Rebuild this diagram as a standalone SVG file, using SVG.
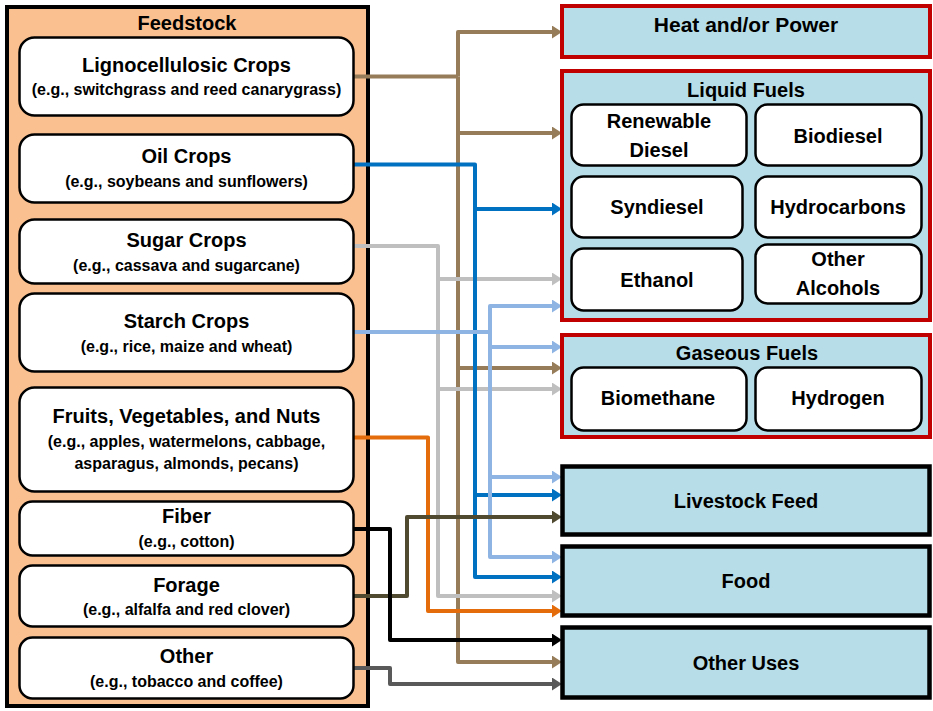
<svg xmlns="http://www.w3.org/2000/svg" width="933" height="711" viewBox="0 0 933 711">
<style>
text{font-family:"Liberation Sans",Arial,sans-serif;font-weight:bold;fill:#000;text-anchor:middle}
.t{font-size:20px}
.s{font-size:16px}
.big{font-size:21px}
.inner{fill:#fff;stroke:#000;stroke-width:2.5}
.sec{fill:#B7DEE8;stroke:#C00000;stroke-width:4}
.out{fill:#B7DEE8;stroke:#000;stroke-width:4.5}
.c{fill:none;stroke-width:4;stroke-linejoin:round}
</style>
<defs>
<marker id="aBr" markerUnits="userSpaceOnUse" markerWidth="10" markerHeight="13" refX="0" refY="6.5" orient="auto" viewBox="0 0 10 13"><path d="M0,0L10,6.5L0,13z" fill="#967C58"/></marker>
<marker id="aBl" markerUnits="userSpaceOnUse" markerWidth="10" markerHeight="13" refX="0" refY="6.5" orient="auto" viewBox="0 0 10 13"><path d="M0,0L10,6.5L0,13z" fill="#0070C0"/></marker>
<marker id="aGr" markerUnits="userSpaceOnUse" markerWidth="10" markerHeight="13" refX="0" refY="6.5" orient="auto" viewBox="0 0 10 13"><path d="M0,0L10,6.5L0,13z" fill="#BFBFBF"/></marker>
<marker id="aLb" markerUnits="userSpaceOnUse" markerWidth="10" markerHeight="13" refX="0" refY="6.5" orient="auto" viewBox="0 0 10 13"><path d="M0,0L10,6.5L0,13z" fill="#8EB4E3"/></marker>
<marker id="aOr" markerUnits="userSpaceOnUse" markerWidth="10" markerHeight="13" refX="0" refY="6.5" orient="auto" viewBox="0 0 10 13"><path d="M0,0L10,6.5L0,13z" fill="#E46C0A"/></marker>
<marker id="aOl" markerUnits="userSpaceOnUse" markerWidth="10" markerHeight="13" refX="0" refY="6.5" orient="auto" viewBox="0 0 10 13"><path d="M0,0L10,6.5L0,13z" fill="#4F4A30"/></marker>
<marker id="aBk" markerUnits="userSpaceOnUse" markerWidth="10" markerHeight="13" refX="0" refY="6.5" orient="auto" viewBox="0 0 10 13"><path d="M0,0L10,6.5L0,13z" fill="#000"/></marker>
<marker id="aDg" markerUnits="userSpaceOnUse" markerWidth="10" markerHeight="13" refX="0" refY="6.5" orient="auto" viewBox="0 0 10 13"><path d="M0,0L10,6.5L0,13z" fill="#595959"/></marker>
</defs>
<rect width="933" height="711" fill="#fff"/>

<g id="feedstock">
<rect x="7" y="7" width="361" height="699" fill="#FAC090" stroke="#000" stroke-width="4"/>
<text class="t" x="187" y="30">Feedstock</text>
</g>

<g id="connectors">
<!-- brown: lignocellulosic -->
<g stroke="#967C58" class="c">
<path class="c" d="M354,76.5H458"/>
<path class="c" d="M458,76.5V32H552" marker-end="url(#aBr)"/>
<path class="c" d="M458,76.5V662H552" marker-end="url(#aBr)"/>
<path class="c" d="M458,133H552" marker-end="url(#aBr)"/>
<path class="c" d="M458,368H552" marker-end="url(#aBr)"/>
</g>
<!-- gray: sugar -->
<g stroke="#BFBFBF">
<path class="c" d="M354,246H438V596H552" marker-end="url(#aGr)"/>
<path class="c" d="M438,279H552" marker-end="url(#aGr)"/>
<path class="c" d="M438,389H552" marker-end="url(#aGr)"/>
</g>
<!-- blue: oil -->
<g stroke="#0070C0">
<path class="c" d="M354,164.5H475V577H552" marker-end="url(#aBl)"/>
<path class="c" d="M475,209H552" marker-end="url(#aBl)"/>
<path class="c" d="M475,495H552" marker-end="url(#aBl)"/>
</g>
<!-- light blue: starch -->
<g stroke="#8EB4E3">
<path class="c" d="M354,332H490"/>
<path class="c" d="M490,332V306H552" marker-end="url(#aLb)"/>
<path class="c" d="M490,332V557H552" marker-end="url(#aLb)"/>
<path class="c" d="M490,347H552" marker-end="url(#aLb)"/>
<path class="c" d="M490,477H552" marker-end="url(#aLb)"/>
</g>
<!-- orange: fruits -->
<path class="c" stroke="#E46C0A" d="M354,437.5H428V611H552" marker-end="url(#aOr)"/>
<!-- olive: forage -->
<path class="c" stroke="#4F4A30" d="M354,596H407V517H552" marker-end="url(#aOl)"/>
<!-- black: fiber -->
<path class="c" stroke="#000" d="M354,529H390V640H552" marker-end="url(#aBk)"/>
<!-- dark gray: other -->
<path class="c" stroke="#595959" d="M354,668H390V684H552" marker-end="url(#aDg)"/>
</g>

<g id="lignocellulosic">
<rect class="inner" x="19.5" y="37.5" width="334" height="78" rx="15"/>
<text class="t" x="186.5" y="72">Lignocellulosic Crops</text>
<text class="s" x="186.5" y="95">(e.g., switchgrass and reed canarygrass)</text>
</g>
<g id="oil">
<rect class="inner" x="19.5" y="134.5" width="334" height="68" rx="15"/>
<text class="t" x="186.5" y="163">Oil Crops</text>
<text class="s" x="186.5" y="187">(e.g., soybeans and sunflowers)</text>
</g>
<g id="sugar">
<rect class="inner" x="19.5" y="219.5" width="334" height="64" rx="15"/>
<text class="t" x="186.5" y="247">Sugar Crops</text>
<text class="s" x="186.5" y="271">(e.g., cassava and sugarcane)</text>
</g>
<g id="starch">
<rect class="inner" x="19.5" y="293.5" width="334" height="78" rx="15"/>
<text class="t" x="186.5" y="328">Starch Crops</text>
<text class="s" x="186.5" y="352">(e.g., rice, maize and wheat)</text>
</g>
<g id="fruits">
<rect class="inner" x="19.5" y="387.5" width="334" height="104" rx="15"/>
<text class="t" x="186.5" y="423">Fruits, Vegetables, and Nuts</text>
<text class="s" x="186.5" y="447">(e.g., apples, watermelons, cabbage,</text>
<text class="s" x="186.5" y="469">asparagus, almonds, pecans)</text>
</g>
<g id="fiber">
<rect class="inner" x="19.5" y="501.5" width="334" height="54" rx="13"/>
<text class="t" x="186.5" y="523">Fiber</text>
<text class="s" x="186.5" y="547">(e.g., cotton)</text>
</g>
<g id="forage">
<rect class="inner" x="19.5" y="565.5" width="334" height="61" rx="13"/>
<text class="t" x="186.5" y="592">Forage</text>
<text class="s" x="186.5" y="615">(e.g., alfalfa and red clover)</text>
</g>
<g id="other">
<rect class="inner" x="19.5" y="637.5" width="334" height="61" rx="13"/>
<text class="t" x="186.5" y="663">Other</text>
<text class="s" x="186.5" y="687">(e.g., tobacco and coffee)</text>
</g>

<g id="heat-power">
<rect class="sec" x="562" y="6" width="368" height="51"/>
<text class="big" x="746" y="32">Heat and/or Power</text>
</g>
<g id="liquid-fuels">
<rect class="sec" x="562" y="71" width="368" height="249"/>
<text class="t" x="746" y="97">Liquid Fuels</text>
</g>
<g id="renewable-diesel">
<rect class="inner" x="571.5" y="104.5" width="175" height="61" rx="12"/>
<text class="t" x="659" y="128">Renewable</text>
<text class="t" x="659" y="157">Diesel</text>
</g>
<g id="biodiesel">
<rect class="inner" x="755.5" y="104.5" width="166" height="61" rx="12"/>
<text class="t" x="838" y="143">Biodiesel</text>
</g>
<g id="syndiesel">
<rect class="inner" x="571.5" y="176.5" width="171" height="61" rx="12"/>
<text class="t" x="657" y="214">Syndiesel</text>
</g>
<g id="hydrocarbons">
<rect class="inner" x="755.5" y="176.5" width="166" height="61" rx="12"/>
<text class="t" x="838" y="214">Hydrocarbons</text>
</g>
<g id="ethanol">
<rect class="inner" x="571.5" y="248.5" width="171" height="62" rx="12"/>
<text class="t" x="657" y="287">Ethanol</text>
</g>
<g id="other-alcohols">
<rect class="inner" x="755.5" y="244.5" width="166" height="59" rx="12"/>
<text class="t" x="838" y="266">Other</text>
<text class="t" x="838" y="295">Alcohols</text>
</g>
<g id="gaseous-fuels">
<rect class="sec" x="562" y="335" width="368" height="102"/>
<text class="t" x="747" y="360">Gaseous Fuels</text>
</g>
<g id="biomethane">
<rect class="inner" x="571.5" y="367.5" width="175" height="63" rx="12"/>
<text class="t" x="658" y="405">Biomethane</text>
</g>
<g id="hydrogen">
<rect class="inner" x="755.5" y="367.5" width="166" height="63" rx="12"/>
<text class="t" x="838" y="405">Hydrogen</text>
</g>
<g id="livestock-feed">
<rect class="out" x="562.5" y="466.5" width="367" height="68"/>
<text class="t" x="746" y="508">Livestock Feed</text>
</g>
<g id="food">
<rect class="out" x="562.5" y="546.5" width="367" height="69"/>
<text class="t" x="746" y="588">Food</text>
</g>
<g id="other-uses">
<rect class="out" x="562.5" y="627.5" width="367" height="70"/>
<text class="t" x="746" y="670">Other Uses</text>
</g>
</svg>
